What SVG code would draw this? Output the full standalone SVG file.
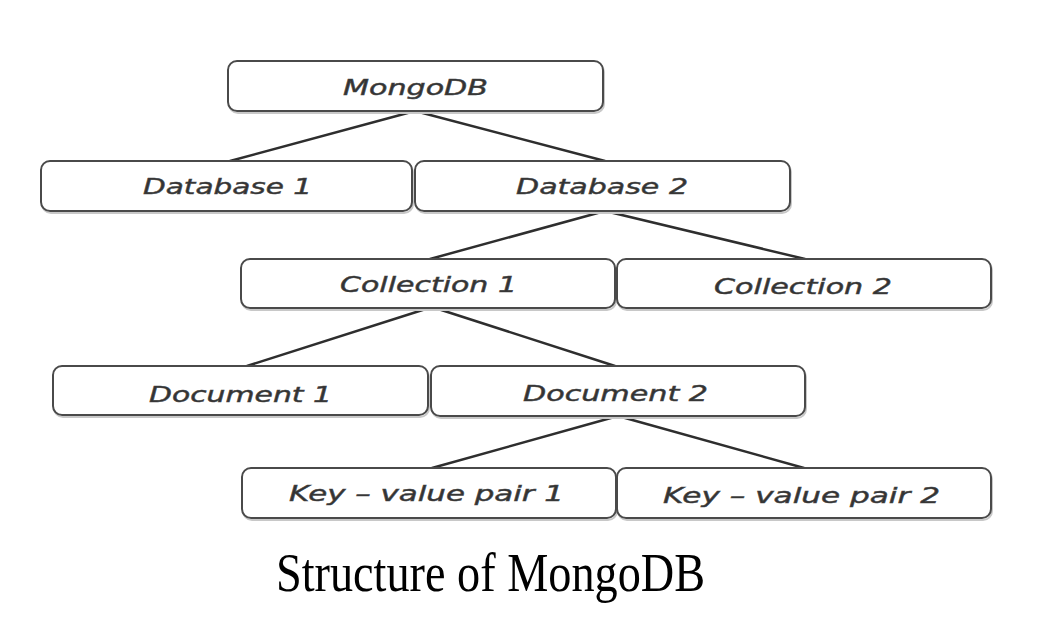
<svg xmlns="http://www.w3.org/2000/svg" width="1058" height="636" viewBox="0 0 1058 636">
<style>
.box{fill:#ffffff;stroke:#4a4a4a;stroke-width:2}
.shadow{fill:none;stroke:#c8c8c8;stroke-width:2}
.lbl{font-family:"DejaVu Sans",Verdana,sans-serif;font-style:italic;font-size:22px;fill:#333333;stroke:#444444;stroke-width:0.5}
.edge{stroke:#2e2e2e;stroke-width:2.5;fill:none;stroke-linecap:round}
.cap{font-family:"Liberation Serif","Times New Roman",serif;font-size:54px;fill:#000000}
</style>
<rect width="1058" height="636" fill="#ffffff"/>
<g id="connectors">
<line class="edge" x1="415" y1="111" x2="230" y2="161"/>
<line class="edge" x1="415" y1="111" x2="605" y2="161"/>
<line class="edge" x1="605" y1="211" x2="430" y2="259"/>
<line class="edge" x1="605" y1="211" x2="805" y2="259"/>
<line class="edge" x1="432" y1="307" x2="247" y2="366"/>
<line class="edge" x1="432" y1="307" x2="615" y2="366"/>
<line class="edge" x1="618" y1="416" x2="432" y2="468"/>
<line class="edge" x1="618" y1="416" x2="804" y2="468"/>
</g>
<g id="mongodb">
<rect class="shadow" x="229" y="63" width="375" height="50" rx="9"/>
<rect class="box" x="228" y="61" width="375" height="50" rx="9"/>
<text class="lbl" x="343" y="95" textLength="145" lengthAdjust="spacingAndGlyphs">MongoDB</text>
</g>
<g id="database1">
<rect class="shadow" x="42" y="163" width="371" height="50" rx="9"/>
<rect class="box" x="41" y="161" width="371" height="50" rx="9"/>
<text class="lbl" x="143" y="194" textLength="169" lengthAdjust="spacingAndGlyphs">Database 1</text>
</g>
<g id="database2">
<rect class="shadow" x="416" y="163" width="375" height="50" rx="9"/>
<rect class="box" x="415" y="161" width="375" height="50" rx="9"/>
<text class="lbl" x="516" y="194" textLength="172" lengthAdjust="spacingAndGlyphs">Database 2</text>
</g>
<g id="collection1">
<rect class="shadow" x="242" y="261" width="374" height="49" rx="9"/>
<rect class="box" x="241" y="259" width="374" height="49" rx="9"/>
<text class="lbl" x="340" y="292" textLength="177" lengthAdjust="spacingAndGlyphs">Collection 1</text>
</g>
<g id="collection2">
<rect class="shadow" x="618" y="261" width="374" height="49" rx="9"/>
<rect class="box" x="617" y="259" width="374" height="49" rx="9"/>
<text class="lbl" x="714" y="294" textLength="178" lengthAdjust="spacingAndGlyphs">Collection 2</text>
</g>
<g id="document1">
<rect class="shadow" x="54" y="368" width="375" height="49" rx="9"/>
<rect class="box" x="53" y="366" width="375" height="49" rx="9"/>
<text class="lbl" x="149" y="402" textLength="183" lengthAdjust="spacingAndGlyphs">Document 1</text>
</g>
<g id="document2">
<rect class="shadow" x="432" y="368" width="374" height="50" rx="9"/>
<rect class="box" x="431" y="366" width="374" height="50" rx="9"/>
<text class="lbl" x="523" y="401" textLength="185" lengthAdjust="spacingAndGlyphs">Document 2</text>
</g>
<g id="kv1">
<rect class="shadow" x="243" y="470" width="374" height="50" rx="9"/>
<rect class="box" x="242" y="468" width="374" height="50" rx="9"/>
<text class="lbl" x="289" y="501" textLength="275" lengthAdjust="spacingAndGlyphs">Key – value pair 1</text>
</g>
<g id="kv2">
<rect class="shadow" x="618" y="470" width="374" height="50" rx="9"/>
<rect class="box" x="617" y="468" width="374" height="50" rx="9"/>
<text class="lbl" x="663" y="503" textLength="277" lengthAdjust="spacingAndGlyphs">Key – value pair 2</text>
</g>
<g id="caption">
<text class="cap" x="276" y="591" textLength="429" lengthAdjust="spacingAndGlyphs">Structure of MongoDB</text>
</g>
</svg>
